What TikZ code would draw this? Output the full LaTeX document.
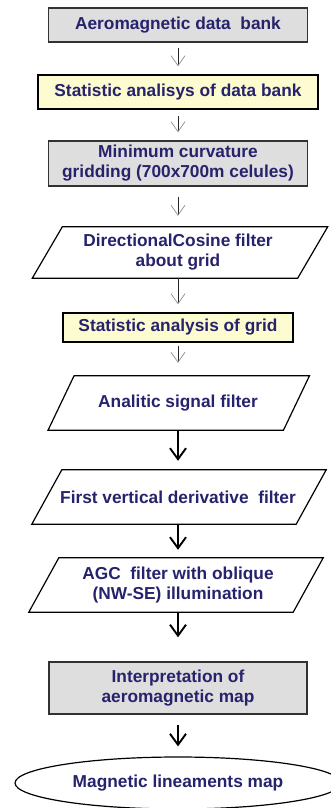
\documentclass[tikz,border=0pt]{standalone}
\usepackage{fontspec}
\setmainfont{Liberation Sans}
\usetikzlibrary{arrows.meta,shapes.geometric}

\definecolor{labelnavy}{RGB}{38,34,108}
\definecolor{boxgray}{RGB}{222,222,222}
\definecolor{boxyellow}{RGB}{253,251,208}
\definecolor{edgegray}{RGB}{50,50,50}

% outline of a parallelogram around a text node: #1 node, #2 slant offset, #3 horizontal shift
\newcommand{\paraoutline}[3]{%
  \draw[slantline] ([xshift={#3-#2/2}]#1.south west) -- ([xshift={#3-#2/2}]#1.south east)
    -- ([xshift={#3+#2/2}]#1.north east) -- ([xshift={#3+#2/2}]#1.north west) -- cycle;}

\tikzset{
  lbl/.style={text=labelnavy, font=\fontsize{17.3}{20}\selectfont\bfseries, align=center, inner sep=0pt},
  graybox/.style={lbl, rectangle, draw=edgegray, line width=1.4pt, fill=boxgray},
  yellowbox/.style={lbl, rectangle, draw=black, line width=1.4pt, fill=boxyellow},
  slanttext/.style={lbl, rectangle},
  slantline/.style={draw=black, line width=1.2pt, line join=miter},
  thinarrow/.style={draw=black!85, line width=0.9pt,
    -{Straight Barb[length=10pt,width=14pt,line width=0.7pt,color=black!45]}},
  thickarrow/.style={draw=black, line width=1.9pt,
    -{Straight Barb[length=11pt,width=16pt,line width=1.9pt]}},
}

\begin{document}
\begin{tikzpicture}[x=1pt,y=-1pt]
\useasboundingbox (0,0) rectangle (331,808);
\clip (0,0) rectangle (331,808);

% process boxes
\node[graybox, minimum width=259, minimum height=34] (bank) at (178,25) {Aeromagnetic data\ \ bank};
\node[yellowbox, minimum width=280, minimum height=34] (stat1) at (178,92) {Statistic analisys of data bank};
\node[graybox, minimum width=259, minimum height=45] (grid) at (178,163.5) {Minimum curvature\\gridding (700x700m celules)};

% filters (parallelograms)
\node[slanttext, minimum width=265, minimum height=51] (cosine) at (178,252.5) {DirectionalCosine filter\\about grid};
\paraoutline{cosine}{30}{2}

\node[yellowbox, minimum width=230, minimum height=29] (stat2) at (178,327.5) {Statistic analysis of grid};

\node[slanttext, minimum width=235, minimum height=54] (signal) at (178,403) {Analitic signal filter};
\paraoutline{signal}{26}{0.75}

\node[slanttext, minimum width=264, minimum height=54] (deriv) at (178,497) {First vertical derivative\ \ filter};
\paraoutline{deriv}{30}{1}

\node[slanttext, minimum width=264, minimum height=54] (agc) at (178,585) {AGC\ \ filter with oblique\\(NW-SE) illumination};
\paraoutline{agc}{30}{-2}

\node[graybox, minimum width=258, minimum height=52] (interp) at (178,688) {Interpretation of\\aeromagnetic map};

\node[lbl, ellipse, draw=black, line width=1.2pt, minimum width=326, minimum height=52] (lineam) at (178,783) {Magnetic lineaments map};

% connectors
\draw[thinarrow, shorten <=5pt, shorten >=8pt] (bank.south) -- (stat1.north);
\draw[thinarrow, shorten <=6pt, shorten >=8pt] (stat1.south) -- (grid.north);
\draw[thinarrow, shorten <=10pt, shorten >=11pt] (grid.south) -- (cosine.north);
\draw[thinarrow, shorten <=0pt, shorten >=8pt] (cosine.south) -- (stat2.north);
\draw[thinarrow, shorten <=3pt, shorten >=13pt] (stat2.south) -- (signal.north);
\draw[thickarrow, shorten <=1pt, shorten >=9pt] (signal.south) -- (deriv.north);
\draw[thickarrow, shorten <=0pt, shorten >=8pt] (deriv.south) -- (agc.north);
\draw[thickarrow, shorten <=0pt, shorten >=24pt] (agc.south) -- (interp.north);
\draw[thickarrow, shorten <=10pt, shorten >=10pt] (interp.south) -- (lineam.north);
\end{tikzpicture}
\end{document}
